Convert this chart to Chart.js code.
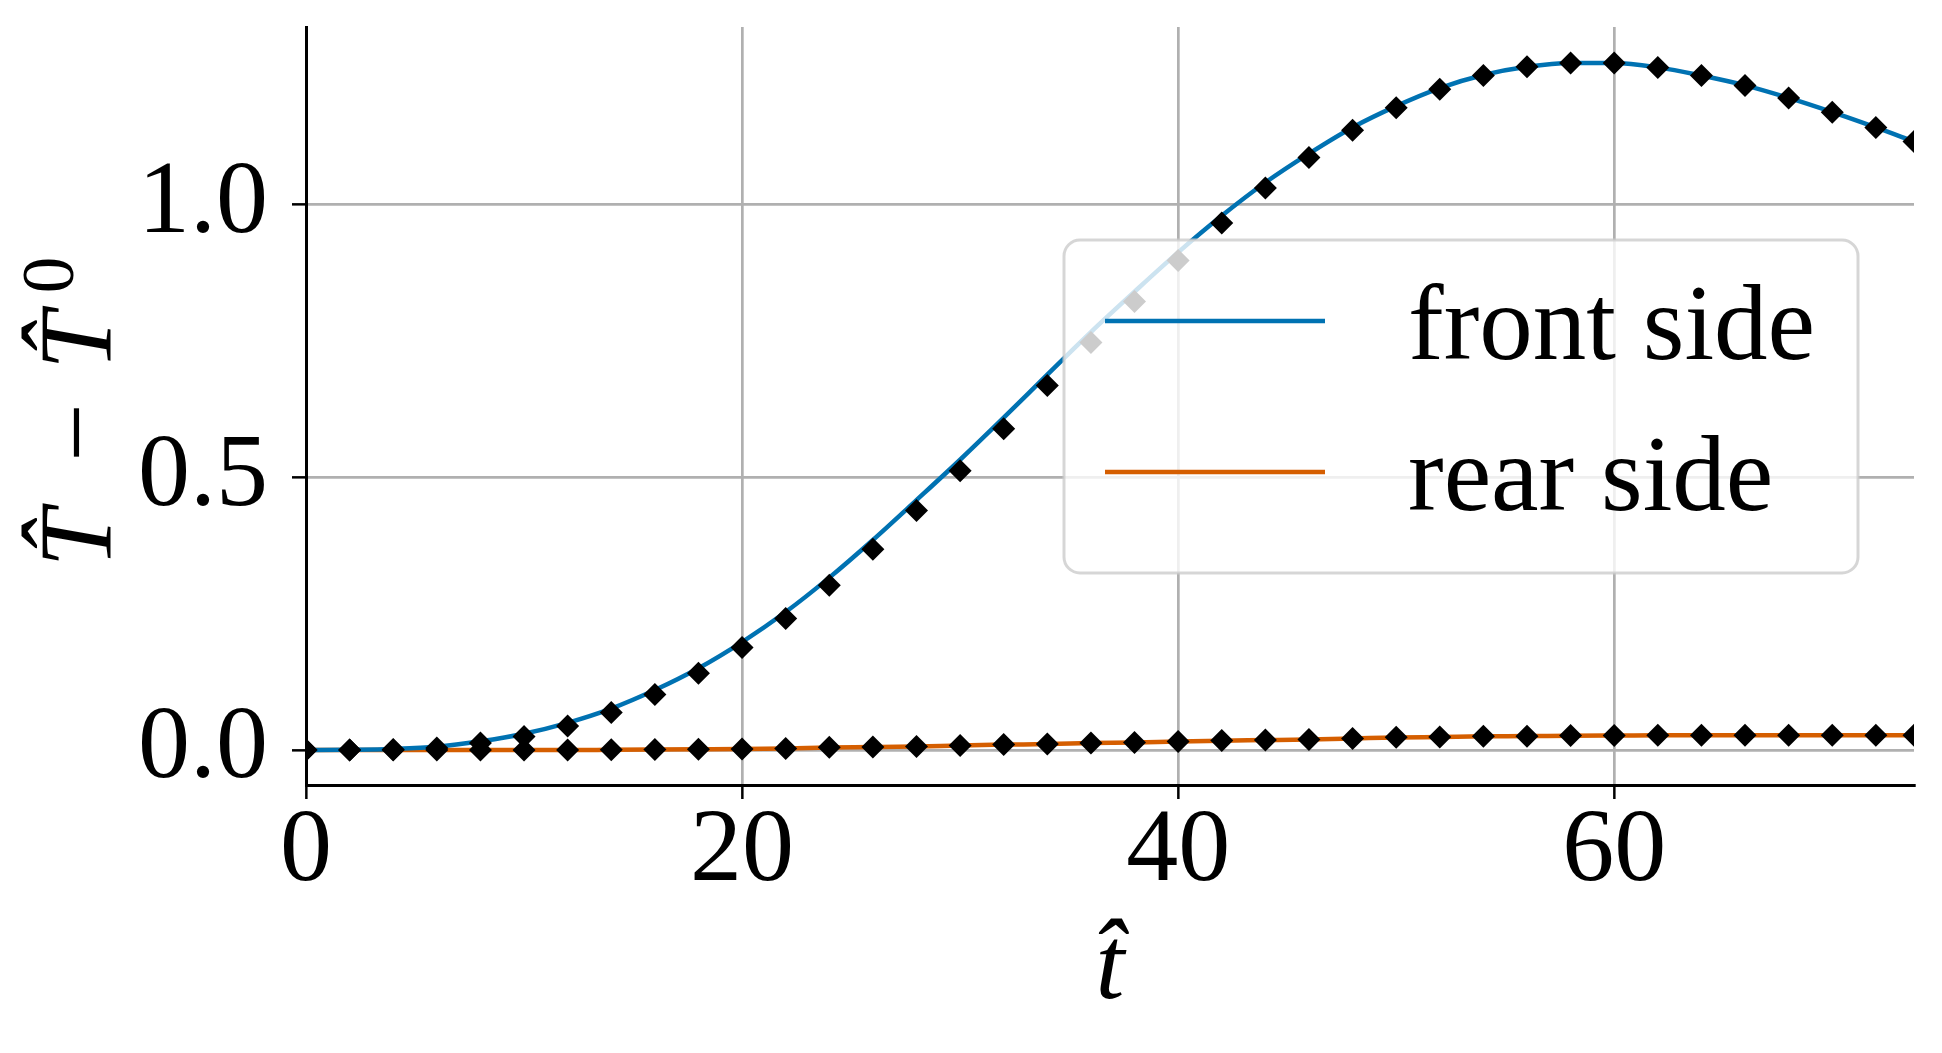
<!DOCTYPE html>
<html>
<head>
<meta charset="utf-8">
<script src="https://cdn.jsdelivr.net/npm/chart.js@4.4.1/dist/chart.umd.min.js"></script>
<style>
  html, body { margin: 0; padding: 0; background: #ffffff; }
  canvas { display: block; }
</style>
</head>
<body>
<canvas id="tempChart" width="1942" height="1053"></canvas>
<script>
// dimensionless time of each sample
const tHat = [0, 2, 4, 6, 8, 10, 12, 14, 16, 18, 20, 22, 24, 26, 28, 30, 32, 34, 36, 38,
              40, 42, 44, 46, 48, 50, 52, 54, 56, 58, 60, 62, 64, 66, 68, 70, 72, 73.75];

// front side: curve and reference markers
const frontLine = [0, 0.0005, 0.002, 0.006, 0.016, 0.030, 0.050, 0.076, 0.110, 0.150,
                   0.198, 0.253, 0.316, 0.385, 0.458, 0.532, 0.609, 0.688, 0.766, 0.840,
                   0.912, 0.979, 1.040, 1.093, 1.141, 1.180, 1.213, 1.237, 1.252, 1.259,
                   1.259, 1.251, 1.236, 1.218, 1.195, 1.169, 1.141, 1.115];
const frontMarks = [0, 0, 0.001, 0.004, 0.013, 0.025, 0.044, 0.069, 0.102, 0.141,
                    0.188, 0.241, 0.302, 0.368, 0.439, 0.512, 0.589, 0.668, 0.747, 0.822,
                    0.897, 0.966, 1.030, 1.086, 1.136, 1.177, 1.211, 1.236, 1.252, 1.259,
                    1.259, 1.251, 1.236, 1.218, 1.195, 1.169, 1.141, 1.115];

// rear side: curve and reference markers
const rearLine = [0, 0, 0, 0, 0, 0, 0, 0.0005, 0.001, 0.0015,
                  0.002, 0.003, 0.0045, 0.0055, 0.0067, 0.0085, 0.0100, 0.0110, 0.0128, 0.0140,
                  0.0158, 0.0172, 0.0183, 0.0195, 0.0212, 0.0230, 0.0240, 0.0252, 0.0256, 0.0264,
                  0.0266, 0.0270, 0.0271, 0.0272, 0.0272, 0.0272, 0.0272, 0.0272];
const rearMarks = [0, 0, 0, 0, 0, 0, 0, 0.0005, 0.001, 0.0015,
                   0.002, 0.003, 0.005, 0.0055, 0.0067, 0.0085, 0.0104, 0.0110, 0.0128, 0.0140,
                   0.0159, 0.0177, 0.0183, 0.0195, 0.0214, 0.0234, 0.0240, 0.0253, 0.0253, 0.0265,
                   0.0265, 0.0270, 0.0270, 0.0270, 0.0270, 0.0270, 0.0270, 0.0270];

const seriesLabels = ['front side', 'rear side'];
const seriesColors = ['#0072b2', '#d55e00'];
const xTicks = [0, 20, 40, 60];
const yTicks = [0, 0.5, 1.0];
const xRange = [0, 73.75];
const yRange = [-0.064, 1.325];

const serif = '"Liberation Serif", "DejaVu Serif", serif';

function toPoints(ys) {
    return tHat.map((t, i) => ({ x: t, y: ys[i] }));
}

function curve(label, ys, color) {
    return {
        label: label,
        data: toPoints(ys),
        showLine: true,
        borderColor: color,
        backgroundColor: color,
        borderWidth: 4.5,
        pointRadius: 0,
        cubicInterpolationMode: 'monotone',
        clip: 0,
        order: 2,
        inLegend: true
    };
}

function markers(ys) {
    return {
        label: '',
        data: toPoints(ys),
        showLine: false,
        pointStyle: 'rectRot',
        pointRadius: 11.5,
        borderWidth: 0,
        backgroundColor: '#000000',
        borderColor: '#000000',
        clip: 0,
        order: 1,
        inLegend: false
    };
}

// y label "T^ - T^0": italic T, upright minus and superscript 0
const yLabel = {
    id: 'yLabel',
    afterDraw(chart) {
        const ctx = chart.ctx;
        const area = chart.chartArea;
        const size = 104;
        const italic = 'italic ' + size + 'px ' + serif;
        const upright = size + 'px ' + serif;
        const small = Math.round(size * 0.7) + 'px ' + serif;
        const parts = [
            { text: 'T\u0302', font: italic, dy: 0, after: 0.2 * size },
            { text: '\u2212', font: upright, dy: 0, after: 0.32 * size, before: 0.26 * size },
            { text: 'T\u0302', font: italic, dy: 0, after: 0.18 * size },
            { text: '0', font: small, dy: -0.37 * size, after: 0 }
        ];
        ctx.save();
        let total = 0;
        parts.forEach(p => {
            ctx.font = p.font;
            p.w = ctx.measureText(p.text).width;
            total += (p.before || 0) + p.w + p.after;
        });
        ctx.translate(111, (area.top + area.bottom) / 2 + 6);
        ctx.rotate(-Math.PI / 2);
        ctx.fillStyle = '#000000';
        ctx.textAlign = 'left';
        ctx.textBaseline = 'alphabetic';
        let x = -total / 2;
        parts.forEach(p => {
            x += p.before || 0;
            ctx.font = p.font;
            ctx.fillText(p.text, x, p.dy);
            x += p.w + p.after;
        });
        ctx.restore();
    }
};

// legend drawn on top of the data, semi transparent like matplotlib
const boxLegend = {
    id: 'boxLegend',
    afterDraw(chart) {
        const ctx = chart.ctx;
        const area = chart.chartArea;
        const w = 794, h = 333;
        const x0 = area.right - 56 - w;
        const y0 = area.top + 213;
        ctx.save();
        ctx.beginPath();
        ctx.roundRect(x0, y0, w, h, 16);
        ctx.fillStyle = 'rgba(255, 255, 255, 0.8)';
        ctx.fill();
        ctx.lineWidth = 3;
        ctx.strokeStyle = 'rgba(204, 204, 204, 0.8)';
        ctx.stroke();

        const items = chart.data.datasets.filter(d => d.inLegend);
        items.forEach((d, i) => {
            const ly = y0 + 81 + i * 151;
            ctx.beginPath();
            ctx.moveTo(x0 + 41, ly);
            ctx.lineTo(x0 + 261, ly);
            ctx.lineWidth = 4.5;
            ctx.strokeStyle = d.borderColor;
            ctx.stroke();
            ctx.fillStyle = '#000000';
            ctx.font = '107px ' + serif;
            ctx.textAlign = 'left';
            ctx.textBaseline = 'alphabetic';
            ctx.fillText(d.label, x0 + 344, ly + 38);
        });
        ctx.restore();
    }
};

new Chart(document.getElementById('tempChart'), {
    type: 'scatter',
    data: {
        datasets: [
            curve(seriesLabels[0], frontLine, seriesColors[0]),
            curve(seriesLabels[1], rearLine, seriesColors[1]),
            markers(frontMarks),
            markers(rearMarks)
        ]
    },
    options: {
        responsive: false,
        animation: false,
        layout: {
            padding: { top: 27, right: 28, left: 0, bottom: 0 }
        },
        plugins: {
            legend: { display: false },
            tooltip: { enabled: false }
        },
        scales: {
            x: {
                type: 'linear',
                min: xRange[0],
                max: xRange[1],
                afterBuildTicks: (scale) => {
                    scale.ticks = xTicks.map(v => ({ value: v }));
                },
                afterFit: (scale) => {
                    scale.height = 268;
                    scale.paddingLeft = 0;
                    scale.paddingRight = 0;
                },
                grid: {
                    color: '#b0b0b0',
                    lineWidth: 2.7,
                    drawTicks: true,
                    tickLength: 14,
                    tickColor: '#000000',
                    tickWidth: 2.5
                },
                border: { display: true, color: '#000000', width: 3 },
                ticks: {
                    color: '#000000',
                    padding: 2,
                    maxRotation: 0,
                    font: { family: serif, size: 104, lineHeight: 1 },
                    callback: (v) => String(v)
                },
                title: {
                    display: true,
                    text: 't\u0302',
                    color: '#000000',
                    padding: { top: 0, bottom: 30 },
                    font: { family: serif, size: 104, style: 'italic', lineHeight: 1 }
                }
            },
            y: {
                type: 'linear',
                min: yRange[0],
                max: yRange[1],
                afterBuildTicks: (scale) => {
                    scale.ticks = yTicks.map(v => ({ value: v }));
                },
                afterFit: (scale) => {
                    scale.width = 306;
                    scale.paddingTop = 0;
                    scale.paddingBottom = 0;
                },
                grid: {
                    color: '#b0b0b0',
                    lineWidth: 2.7,
                    drawTicks: true,
                    tickLength: 14,
                    tickColor: '#000000',
                    tickWidth: 2.5
                },
                border: { display: true, color: '#000000', width: 3 },
                ticks: {
                    color: '#000000',
                    padding: 24,
                    font: { family: serif, size: 104, lineHeight: 1 },
                    callback: (v) => v.toFixed(1)
                },
                title: { display: false }
            }
        }
    },
    plugins: [yLabel, boxLegend]
});
</script>
</body>
</html>
